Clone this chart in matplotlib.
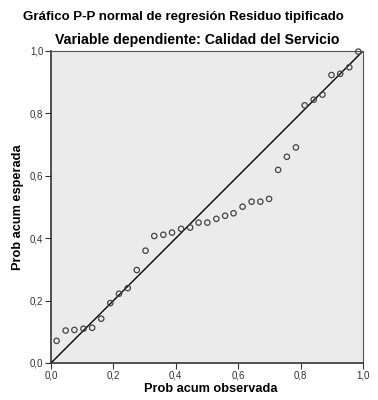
import matplotlib
matplotlib.use('Agg')
import matplotlib.pyplot as plt

plt.rcParams['font.family'] = ['Liberation Sans', 'DejaVu Sans']

obs = [0.018, 0.047, 0.075, 0.104, 0.132, 0.161, 0.190, 0.218, 0.246, 0.275,
       0.303, 0.331, 0.360, 0.388, 0.417, 0.446, 0.473, 0.501, 0.530, 0.558,
       0.585, 0.614, 0.643, 0.671, 0.699, 0.728, 0.756, 0.785, 0.813, 0.842,
       0.870, 0.899, 0.927, 0.956, 0.985]
esp = [0.071, 0.104, 0.106, 0.110, 0.113, 0.142, 0.192, 0.222, 0.240, 0.298,
       0.360, 0.407, 0.411, 0.418, 0.430, 0.434, 0.450, 0.450, 0.462, 0.472,
       0.480, 0.501, 0.517, 0.517, 0.526, 0.619, 0.661, 0.691, 0.826, 0.844,
       0.860, 0.923, 0.927, 0.948, 0.998]

ticks = [0.0, 0.2, 0.4, 0.6, 0.8, 1.0]
tick_labels = ['0,0', '0,2', '0,4', '0,6', '0,8', '1,0']

fig = plt.figure(figsize=(3.78, 4.0), dpi=100)
ax = fig.add_axes([51 / 378, 37 / 400, 312 / 378, 312 / 400])
ax.set_facecolor('#ebebeb')

# reference line
ax.plot([0, 1], [0, 1], color='black', lw=1.0, zorder=2)
ax.scatter(obs, esp, s=15, facecolors='none', edgecolors='#444444', linewidths=0.9, zorder=3, clip_on=False)

ax.set_xlim(0, 1)
ax.set_ylim(0, 1)
ax.set_xticks(ticks)
ax.set_xticklabels(tick_labels)
ax.set_yticks(ticks)
ax.set_yticklabels(tick_labels)
ax.tick_params(direction='out', length=4, width=0.8, labelsize=7, colors='#333333', pad=1.5)

for side in ['left', 'bottom']:
    ax.spines[side].set_linewidth(1.2)
    ax.spines[side].set_color('#333333')
for side in ['top', 'right']:
    ax.spines[side].set_linewidth(0.8)
    ax.spines[side].set_color('#555555')

fig.text(183 / 378, 1 - 17 / 400, 'Gráfico P-P normal de regresión Residuo tipificado',
         ha='center', va='center', fontsize=9.5, fontweight='bold')
fig.text(197 / 378, 1 - 40 / 400, 'Variable dependiente: Calidad del Servicio',
         ha='center', va='center', fontsize=10.2, fontweight='bold')
fig.text(211 / 378, 1 - 389 / 400, 'Prob acum observada', ha='center', va='center', fontsize=9.2, fontweight='bold')
fig.text(18 / 378, 1 - 207 / 400, 'Prob acum esperada', ha='center', va='center', fontsize=9.2,
         fontweight='bold', rotation=90)

fig.savefig('out.png', dpi=100, facecolor='white')
